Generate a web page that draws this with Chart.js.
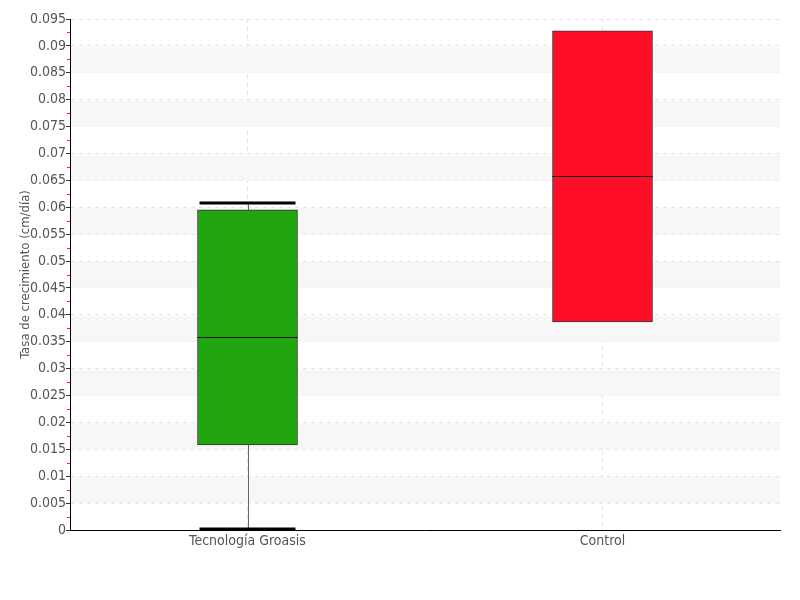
<!DOCTYPE html>
<html><head><meta charset="utf-8">
<script src="https://cdn.jsdelivr.net/npm/chart.js@4"></script>
<style>html,body{margin:0;padding:0;background:#fff}#wrap{width:800px;height:600px}</style>
</head><body><div id="wrap"><canvas id="c" width="800" height="600"></canvas></div>
<script>
const categories = ['Tecnología Groasis', 'Control'];
const mins = [0.0002, 0.0387];
const q1s = [0.0158, 0.0387];
const medians = [0.0359, 0.0658];
const q3s = [0.0595, 0.0928];
const maxs = [0.0608, 0.0928];
const fillColors = ['#22a60f', '#ff0e27'];
const yTicks = [0, 0.005, 0.01, 0.015, 0.02, 0.025, 0.03, 0.035, 0.04, 0.045, 0.05, 0.055, 0.06, 0.065, 0.07, 0.075, 0.08, 0.085, 0.09, 0.095];

const FONT = '"DejaVu Sans Condensed", "Liberation Sans Narrow", sans-serif';

const boxPlugin = {
  id: 'boxPlugin',
  beforeDatasetsDraw(chart) {
    const {ctx, chartArea: a, scales: {x, y}} = chart;
    ctx.save();
    ctx.fillStyle = '#f7f7f7';
    for (let i = 1; i < yTicks.length - 1; i += 2) {
      const t = y.getPixelForValue(yTicks[i + 1]);
      const b = y.getPixelForValue(yTicks[i]);
      ctx.fillRect(a.left + 1, t + 1, a.right - a.left - 1, b - t - 1);
    }
    ctx.strokeStyle = '#666';
    ctx.lineWidth = 1;
    categories.forEach((c, i) => {
      const cx = Math.round(x.getPixelForValue(i)) + 0.5;
      ctx.beginPath();
      ctx.moveTo(cx, y.getPixelForValue(maxs[i]));
      ctx.lineTo(cx, y.getPixelForValue(q3s[i]));
      ctx.moveTo(cx, y.getPixelForValue(q1s[i]));
      ctx.lineTo(cx, y.getPixelForValue(mins[i]));
      ctx.stroke();
    });
    ctx.restore();
  },
  afterDatasetsDraw(chart) {
    const {ctx, chartArea: a, scales: {x, y}} = chart;
    const meta = chart.getDatasetMeta(0);
    ctx.save();
    categories.forEach((c, i) => {
      const bar = meta.data[i];
      const half = bar.width / 2;
      const cx = bar.x;
      ctx.strokeStyle = '#111';
      ctx.lineWidth = 1;
      const my = Math.round(y.getPixelForValue(medians[i])) + 0.5;
      ctx.beginPath();
      ctx.moveTo(cx - half, my);
      ctx.lineTo(cx + half, my);
      ctx.stroke();
      if (maxs[i] > q3s[i] || mins[i] < q1s[i]) {
        ctx.strokeStyle = '#000';
        ctx.lineWidth = 3;
        [maxs[i], mins[i]].forEach(v => {
          const py = Math.round(y.getPixelForValue(v));
          ctx.beginPath();
          ctx.moveTo(cx - half + 2, py);
          ctx.lineTo(cx + half - 2, py);
          ctx.stroke();
        });
      }
    });
    ctx.strokeStyle = '#ff2020';
    ctx.lineWidth = 1;
    for (let i = 0; i < yTicks.length - 1; i++) {
      const v = (yTicks[i] + yTicks[i + 1]) / 2;
      const py = Math.round(y.getPixelForValue(v)) + 0.5;
      ctx.beginPath();
      ctx.moveTo(a.left - 3, py);
      ctx.lineTo(a.left, py);
      ctx.stroke();
    }
    ctx.restore();
  }
};

new Chart(document.getElementById('c'), {
  type: 'bar',
  data: {
    labels: categories,
    datasets: [{
      data: categories.map((c, i) => [q1s[i], q3s[i]]),
      backgroundColor: fillColors,
      borderColor: '#333',
      borderWidth: 1,
      borderSkipped: false,
      barThickness: 100
    }]
  },
  options: {
    responsive: false,
    animation: false,
    layout: {padding: {left: 18, right: 20, top: 19, bottom: 0}},
    plugins: {legend: {display: false}, tooltip: {enabled: false}},
    scales: {
      x: {
        grid: {offset: false, color: '#e4e4e4', drawTicks: false},
        border: {color: '#000', dash: [4, 4], width: 1},
        ticks: {color: '#555', font: {family: FONT, size: 14}, padding: 3},
        afterFit(s) { s.height = 70; }
      },
      y: {
        min: 0, max: 0.095,
        grid: {color: '#e4e4e4', tickColor: '#333', tickLength: 4},
        border: {color: '#000', dash: [4, 4], width: 1},
        ticks: {
          stepSize: 0.005, color: '#555', font: {family: FONT, size: 14}, padding: 0,
          callback: v => String(Number(v.toFixed(4)))
        },
        title: {display: true, text: 'Tasa de crecimiento (cm/día)', color: '#555', font: {family: FONT, size: 13}, padding: 0},
        afterFit(s) { s.width = 52; }
      }
    }
  },
  plugins: [boxPlugin]
});
</script></body></html>
